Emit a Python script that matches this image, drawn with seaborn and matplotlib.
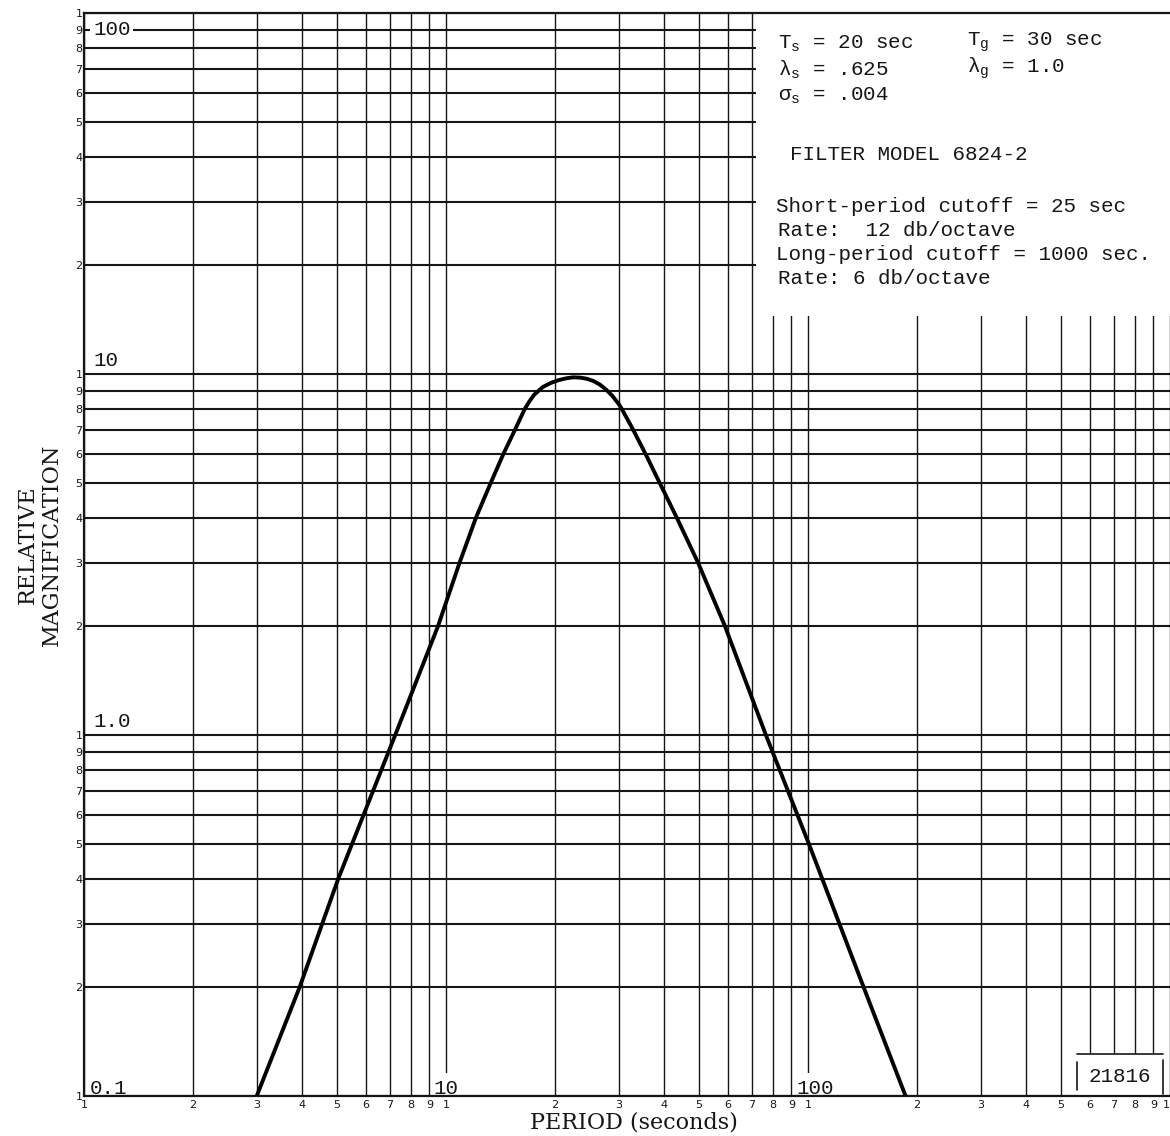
import numpy as np
import pandas as pd
import matplotlib
matplotlib.use("Agg")
import matplotlib.pyplot as plt
from matplotlib.patches import Rectangle
from matplotlib.ticker import FixedLocator, FixedFormatter, NullLocator
import seaborn as sns

# Response curve: period (s) vs relative magnification
period = [3.0, 3.94, 5.04, 7.24, 9.5, 10.9, 12.1, 13.3, 14.4, 15.5, 16.5,
          17.0, 17.5, 18.5, 19.5, 20.5, 21.5, 22.45, 23.5, 24.5, 25.5, 26.6,
          27.7, 28.8, 30.0, 30.6, 32.9, 35.6, 38.9, 43.4, 49.7, 59.0,
          76.5, 100.5, 142.5, 186.0]
magnification = [0.1, 0.2, 0.4, 1.0, 2.0, 3.0, 4.0, 5.0, 6.0, 7.0, 8.0,
                 8.4, 8.75, 9.2, 9.45, 9.62, 9.73, 9.79, 9.77, 9.7, 9.57, 9.35,
                 9.05, 8.7, 8.26, 8.0, 7.0, 6.0, 5.0, 4.0, 3.0, 2.0,
                 1.0, 0.5, 0.2, 0.1]

# log paper rulings
x_decades = [1, 10, 100]
y_decades = [0.1, 1, 10]
digits = [1, 2, 3, 4, 5, 6, 7, 8, 9]
x_ticks = [d * m for d in x_decades for m in digits] + [1000]
y_ticks = [d * m for d in y_decades for m in digits] + [100]
x_tick_labels = [str(m) for m in digits] * 3 + ["1"]
y_tick_labels = [str(m) for m in digits] * 3 + ["1"]

info_lines = [
    ("T$_{\\rm s}$ = 20 sec", 778, 44),
    ("T$_{\\rm g}$ = 30 sec", 967, 42),
    ("λ$_{\\rm s}$ = .625", 778, 70),
    ("λ$_{\\rm g}$ = 1.0", 967, 68),
    ("σ$_{\\rm s}$ = .004", 778, 96),
    ("FILTER MODEL 6824-2", 790, 154),
    ("Short-period cutoff = 25 sec", 776, 206),
    ("Rate:  12 db/octave", 778, 230),
    ("Long-period cutoff = 1000 sec.", 776, 254),
    ("Rate: 6 db/octave", 778, 279),
]

sns.set_style("white")
plt.rcParams["font.family"] = ["DejaVu Serif", "DejaVu Sans"]
plt.rcParams["mathtext.fontset"] = "custom"
plt.rcParams["mathtext.rm"] = "Liberation Mono"

W, H = 1170, 1136
fig = plt.figure(figsize=(W / 100, H / 100), dpi=100)
ax = fig.add_axes([84 / W, (H - 1096) / H, (W - 84) / W, 1083 / H])

ink = "#161616"
sns.lineplot(x=period, y=magnification, ax=ax, color="black", lw=2.8,
             estimator=None, sort=False, zorder=3,
             solid_joinstyle="round", solid_capstyle="round")

ax.set_xscale("log")
ax.set_yscale("log")
ax.set_xlim(1, 1000)
ax.set_ylim(0.1, 100)
ax.set_axisbelow(True)

ax.xaxis.set_major_locator(FixedLocator(x_ticks))
ax.xaxis.set_major_formatter(FixedFormatter(x_tick_labels))
ax.xaxis.set_minor_locator(NullLocator())
ax.yaxis.set_major_locator(FixedLocator(y_ticks))
ax.yaxis.set_major_formatter(FixedFormatter(y_tick_labels))
ax.yaxis.set_minor_locator(NullLocator())
ax.tick_params(axis="both", length=0, labelsize=8, colors=ink)
ax.tick_params(axis="x", pad=3)
ax.tick_params(axis="y", pad=1)
for lab in ax.get_xticklabels() + ax.get_yticklabels():
    lab.set_fontfamily("DejaVu Sans")
ax.get_xticklabels()[-1].set_horizontalalignment("right")

ax.grid(True, axis="y", color=ink, lw=1.5)
ax.grid(True, axis="x", color=ink, lw=1.0)

for side in ["left", "bottom", "top"]:
    ax.spines[side].set_color(ink)
    ax.spines[side].set_linewidth(1.6)
ax.spines["right"].set_visible(False)

# blank area holding the instrument notes
ax.add_patch(Rectangle((72, 14.5), 1000 - 72, 100 - 14.5, facecolor="white",
                       edgecolor="none", zorder=1.5))

# identification box at lower right
ax.add_patch(Rectangle((553, 0.1), 957 - 553, 0.131 - 0.1, facecolor="white",
                       edgecolor="none", zorder=1.5))
ax.plot([553, 957], [0.131, 0.131], color=ink, lw=1.2, zorder=2)
ax.plot([553, 553], [0.104, 0.124], color=ink, lw=1.2, zorder=2)
ax.plot([957, 957], [0.101, 0.126], color=ink, lw=1.2, zorder=2)
ax.text(728, 0.113, "21816", family="Liberation Mono", fontsize=15,
        ha="center", va="center", color=ink, zorder=2)

# decade rulings at 10 and 100 s stop short above their numbers
for xv in [10, 100]:
    ax.plot([xv, xv], [0.1, 0.116], color="white", lw=3, zorder=1.6,
            solid_capstyle="butt")

# decade numbers written on the paper
mono = dict(family="Liberation Mono", fontsize=15, color=ink, zorder=2)
ax.text(1.06, 90, "100", ha="left", va="center",
        bbox=dict(facecolor="white", edgecolor="none", pad=2), **mono)
ax.text(1.06, 10.9, "10", ha="left", va="center", **mono)
ax.text(1.06, 1.087, "1.0", ha="left", va="center", **mono)
ax.text(1.04, 0.1047, "0.1", ha="left", va="center", **mono)
ax.text(10, 0.1047, "10", ha="center", va="center", **mono)
ax.text(105, 0.1047, "100", ha="center", va="center", **mono)

for txt, px, py in info_lines:
    fig.text(px / W, 1 - py / H, txt, family="Liberation Mono", fontsize=15,
             ha="left", va="center", color=ink)

fig.text(40 / W, 1 - 545 / H, "RELATIVE\nMAGNIFICATION", rotation=90,
         ha="center", va="center", multialignment="center", fontsize=16,
         linespacing=1.1, color=ink)
fig.text(634 / W, 1 - 1122 / H, "PERIOD (seconds)", ha="center", va="center",
         fontsize=16, color=ink)

fig.savefig("out.png", dpi=100)
